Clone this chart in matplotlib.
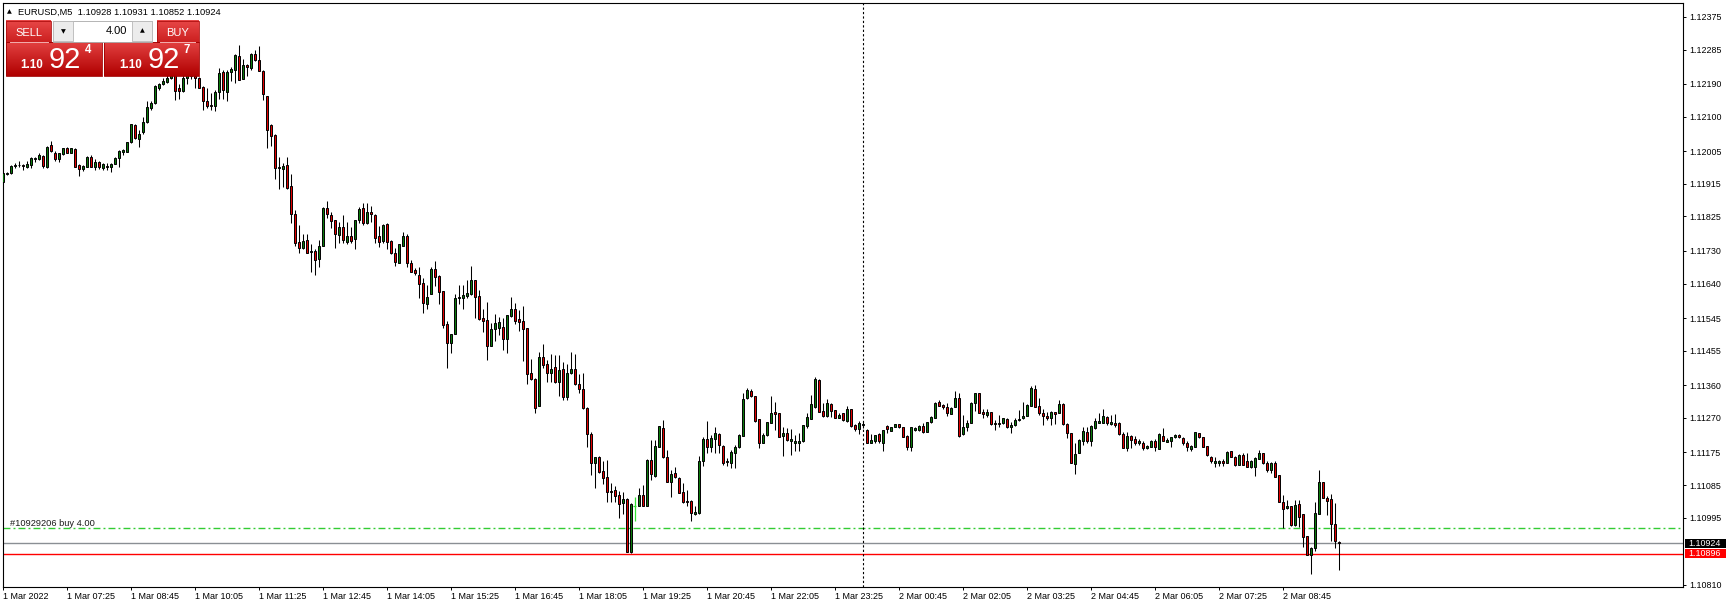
import numpy as np
import matplotlib.pyplot as plt
import matplotlib.colors as mcolors
from matplotlib.patches import Rectangle

plt.rcParams['font.family'] = ['Liberation Sans', 'DejaVu Sans']

# EURUSD M5 bars, values are points (1e-5) above 1.10000
opens = [
    1921, 1942, 1944, 1964, 1966, 1966, 1960, 1966, 1982, 1982,
    1991, 1961, 2021, 2001, 1984, 1998, 2013, 2001, 2011, 1967,
    1955, 1962, 1989, 1962, 1974, 1958, 1965, 1960, 1970, 1985,
    2003, 2003, 2029, 2076, 2039, 2059, 2084, 2125, 2137, 2178,
    2190, 2196, 2207, 2222, 2178, 2171, 2207, 2222, 2212, 2206,
    2182, 2142, 2133, 2130, 2169, 2223, 2169, 2222, 2229, 2266,
    2204, 2241, 2234, 2272, 2257, 2227, 2158, 2076, 2049, 1958,
    1955, 1967, 1909, 1833, 1754, 1737, 1759, 1726, 1731, 1707,
    1744, 1847, 1828, 1814, 1773, 1795, 1756, 1771, 1762, 1815,
    1847, 1806, 1836, 1829, 1770, 1758, 1804, 1757, 1723, 1698,
    1744, 1770, 1698, 1677, 1665, 1641, 1585, 1610, 1680, 1661,
    1619, 1529, 1475, 1500, 1599, 1601, 1607, 1611, 1650, 1606,
    1545, 1540, 1469, 1514, 1519, 1520, 1487, 1551, 1570, 1542,
    1537, 1517, 1394, 1377, 1304, 1437, 1418, 1393, 1409, 1370,
    1404, 1328, 1395, 1404, 1362, 1349, 1296, 1226, 1147, 1161,
    1124, 1106, 1069, 1071, 1058, 1035, 1047, 900, 1028, 1028,
    1058, 1028, 1154, 1110, 1189, 1241, 1161, 1092, 1118, 1104,
    1065, 1040, 1040, 1005, 1008, 1150, 1213, 1191, 1211, 1225,
    1193, 1148, 1147, 1172, 1189, 1220, 1324, 1344, 1329, 1266,
    1202, 1222, 1257, 1287, 1283, 1220, 1229, 1205, 1202, 1202,
    1205, 1248, 1268, 1299, 1374, 1290, 1275, 1309, 1292, 1271,
    1284, 1261, 1294, 1250, 1239, 1250, 1237, 1200, 1205, 1225,
    1200, 1248, 1235, 1246, 1252, 1244, 1220, 1191, 1237, 1237,
    1248, 1232, 1258, 1271, 1313, 1306, 1301, 1281, 1301, 1324,
    1225, 1246, 1257, 1310, 1338, 1287, 1279, 1285, 1252, 1257,
    1255, 1266, 1244, 1250, 1264, 1269, 1276, 1304, 1349, 1303,
    1284, 1276, 1269, 1285, 1283, 1308, 1253, 1229, 1142, 1172,
    1205, 1232, 1205, 1243, 1255, 1255, 1273, 1253, 1257, 1257,
    1226, 1186, 1221, 1212, 1200, 1200, 1186, 1191, 1207, 1185,
    1221, 1204, 1205, 1216, 1223, 1214, 1202, 1185, 1191, 1228,
    1216, 1193, 1161, 1145, 1145, 1152, 1147, 1178, 1163, 1140,
    1168, 1150, 1136, 1136, 1156, 1173, 1145, 1127, 1147, 1113,
    1038, 1021, 1026, 974, 1032, 1004, 945, 891, 911, 1004,
    1093, 1050, 1047, 978, 928,
]
highs = [
    1946, 1948, 1966, 1971, 1977, 1970, 1979, 1990, 1990, 2001,
    1994, 2019, 2034, 2004, 2001, 2015, 2017, 2015, 2013, 1970,
    1967, 1992, 1994, 1982, 1979, 1973, 1971, 1971, 1988, 2008,
    2012, 2031, 2080, 2079, 2063, 2098, 2144, 2144, 2186, 2193,
    2207, 2214, 2232, 2228, 2191, 2214, 2235, 2230, 2225, 2208,
    2185, 2179, 2165, 2174, 2234, 2229, 2229, 2238, 2272, 2298,
    2259, 2245, 2275, 2284, 2296, 2229, 2158, 2079, 2051, 1988,
    1971, 1990, 1942, 1844, 1801, 1776, 1776, 1749, 1734, 1760,
    1852, 1867, 1836, 1815, 1809, 1829, 1809, 1795, 1815, 1852,
    1863, 1863, 1854, 1832, 1799, 1804, 1808, 1760, 1737, 1748,
    1783, 1777, 1705, 1682, 1685, 1656, 1636, 1685, 1702, 1663,
    1619, 1538, 1500, 1610, 1635, 1635, 1650, 1688, 1650, 1622,
    1569, 1589, 1532, 1555, 1549, 1544, 1554, 1604, 1586, 1567,
    1578, 1517, 1432, 1379, 1451, 1474, 1430, 1445, 1443, 1443,
    1424, 1418, 1451, 1445, 1391, 1393, 1301, 1232, 1163, 1166,
    1150, 1154, 1090, 1081, 1069, 1067, 1049, 1035, 1051, 1076,
    1085, 1156, 1209, 1209, 1249, 1264, 1182, 1127, 1136, 1108,
    1090, 1070, 1044, 1026, 1166, 1218, 1262, 1223, 1246, 1229,
    1194, 1159, 1182, 1195, 1225, 1338, 1351, 1349, 1330, 1266,
    1228, 1260, 1330, 1313, 1283, 1246, 1241, 1239, 1223, 1229,
    1250, 1283, 1333, 1384, 1377, 1310, 1322, 1310, 1292, 1283,
    1284, 1303, 1294, 1252, 1262, 1260, 1239, 1226, 1222, 1228,
    1237, 1251, 1246, 1254, 1254, 1246, 1223, 1246, 1246, 1251,
    1255, 1260, 1275, 1315, 1318, 1307, 1310, 1299, 1345, 1338,
    1278, 1264, 1315, 1338, 1338, 1294, 1294, 1287, 1264, 1278,
    1271, 1269, 1260, 1269, 1292, 1314, 1307, 1358, 1361, 1324,
    1294, 1287, 1290, 1285, 1319, 1310, 1255, 1229, 1200, 1211,
    1244, 1246, 1251, 1269, 1284, 1294, 1276, 1278, 1281, 1259,
    1232, 1232, 1223, 1221, 1211, 1206, 1195, 1209, 1211, 1228,
    1241, 1214, 1218, 1225, 1226, 1216, 1205, 1196, 1232, 1229,
    1218, 1193, 1165, 1162, 1154, 1156, 1179, 1180, 1165, 1170,
    1172, 1172, 1154, 1161, 1182, 1174, 1150, 1148, 1152, 1113,
    1058, 1044, 1027, 1044, 1044, 1004, 945, 913, 1037, 1127,
    1094, 1055, 1061, 1035, 931,
]
lows = [
    1919, 1940, 1942, 1959, 1962, 1953, 1958, 1958, 1975, 1981,
    1958, 1958, 2003, 1979, 1975, 1995, 1999, 1999, 1962, 1937,
    1951, 1962, 1962, 1953, 1955, 1953, 1953, 1947, 1969, 1962,
    1993, 2002, 2027, 2038, 2017, 2051, 2083, 2118, 2136, 2174,
    2188, 2192, 2204, 2146, 2150, 2168, 2190, 2205, 2180, 2179,
    2119, 2123, 2119, 2116, 2149, 2149, 2142, 2197, 2192, 2202,
    2203, 2211, 2229, 2254, 2225, 2146, 2013, 2018, 1927, 1902,
    1907, 1901, 1808, 1744, 1723, 1735, 1723, 1673, 1665, 1687,
    1743, 1820, 1792, 1739, 1751, 1751, 1748, 1751, 1734, 1806,
    1801, 1804, 1810, 1753, 1740, 1751, 1735, 1721, 1689, 1698,
    1744, 1687, 1673, 1665, 1601, 1560, 1569, 1610, 1634, 1583,
    1517, 1407, 1450, 1500, 1583, 1569, 1599, 1609, 1546, 1540,
    1508, 1430, 1469, 1483, 1498, 1457, 1450, 1549, 1528, 1510,
    1428, 1363, 1374, 1283, 1304, 1407, 1370, 1370, 1367, 1330,
    1319, 1319, 1391, 1361, 1338, 1294, 1191, 1113, 1078, 1119,
    1087, 1039, 1039, 1039, 993, 1005, 900, 897, 987, 1026,
    1026, 1026, 1099, 1108, 1189, 1160, 1092, 1053, 1104, 1062,
    1035, 1026, 987, 1003, 1005, 1138, 1174, 1175, 1172, 1172,
    1140, 1138, 1133, 1133, 1186, 1220, 1321, 1327, 1260, 1188,
    1200, 1220, 1255, 1237, 1217, 1165, 1205, 1168, 1180, 1179,
    1203, 1241, 1266, 1296, 1287, 1273, 1273, 1273, 1269, 1269,
    1262, 1260, 1246, 1235, 1226, 1242, 1200, 1200, 1200, 1202,
    1180, 1229, 1234, 1244, 1242, 1218, 1182, 1180, 1235, 1235,
    1229, 1232, 1257, 1271, 1302, 1294, 1276, 1281, 1299, 1218,
    1223, 1235, 1257, 1290, 1283, 1269, 1273, 1250, 1237, 1246,
    1253, 1241, 1229, 1248, 1262, 1266, 1275, 1304, 1301, 1278,
    1250, 1264, 1250, 1252, 1283, 1250, 1214, 1145, 1115, 1172,
    1195, 1202, 1193, 1239, 1255, 1255, 1250, 1250, 1246, 1223,
    1186, 1180, 1186, 1195, 1195, 1182, 1184, 1189, 1180, 1184,
    1206, 1204, 1189, 1214, 1214, 1195, 1180, 1180, 1191, 1214,
    1189, 1166, 1145, 1136, 1138, 1138, 1145, 1161, 1138, 1139,
    1139, 1134, 1133, 1110, 1156, 1142, 1122, 1117, 1106, 1038,
    966, 1018, 971, 972, 969, 914, 891, 839, 902, 1004,
    1049, 1003, 932, 911, 852,
]
closes = [
    1944, 1946, 1964, 1966, 1966, 1965, 1969, 1986, 1986, 1994,
    1964, 2017, 2004, 1984, 1999, 2013, 2001, 2013, 1962, 1955,
    1965, 1989, 1962, 1974, 1962, 1969, 1960, 1969, 1986, 2006,
    2009, 2029, 2079, 2042, 2051, 2085, 2126, 2137, 2184, 2190,
    2198, 2207, 2222, 2170, 2171, 2207, 2222, 2212, 2206, 2180,
    2142, 2130, 2130, 2169, 2220, 2174, 2223, 2231, 2269, 2202,
    2243, 2236, 2272, 2257, 2226, 2163, 2064, 2048, 1958, 1962,
    1964, 1904, 1831, 1751, 1737, 1757, 1725, 1729, 1704, 1743,
    1847, 1831, 1813, 1776, 1796, 1760, 1771, 1758, 1814, 1845,
    1806, 1836, 1831, 1767, 1755, 1801, 1755, 1723, 1700, 1748,
    1770, 1698, 1673, 1668, 1638, 1586, 1603, 1680, 1659, 1618,
    1526, 1475, 1500, 1600, 1604, 1609, 1614, 1650, 1602, 1542,
    1538, 1467, 1515, 1531, 1534, 1487, 1553, 1570, 1538, 1535,
    1516, 1390, 1377, 1298, 1437, 1415, 1393, 1405, 1370, 1402,
    1328, 1394, 1404, 1363, 1349, 1296, 1225, 1145, 1161, 1120,
    1104, 1065, 1065, 1056, 1032, 1046, 900, 1032, 1028, 1058,
    1028, 1154, 1115, 1193, 1248, 1161, 1092, 1116, 1106, 1064,
    1038, 1037, 1009, 1011, 1150, 1213, 1191, 1214, 1228, 1194,
    1147, 1152, 1175, 1189, 1222, 1322, 1347, 1329, 1262, 1202,
    1223, 1260, 1284, 1280, 1218, 1229, 1209, 1213, 1206, 1207,
    1250, 1273, 1308, 1377, 1287, 1275, 1312, 1290, 1271, 1278,
    1264, 1294, 1249, 1239, 1257, 1254, 1200, 1209, 1222, 1205,
    1237, 1239, 1244, 1252, 1244, 1218, 1191, 1244, 1241, 1248,
    1232, 1258, 1272, 1310, 1304, 1299, 1283, 1296, 1324, 1220,
    1244, 1257, 1312, 1338, 1283, 1280, 1287, 1252, 1257, 1252,
    1269, 1244, 1250, 1264, 1268, 1276, 1305, 1352, 1301, 1283,
    1276, 1269, 1287, 1281, 1308, 1253, 1229, 1145, 1170, 1209,
    1234, 1205, 1248, 1262, 1262, 1275, 1255, 1260, 1251, 1225,
    1188, 1220, 1209, 1200, 1206, 1186, 1193, 1206, 1189, 1226,
    1207, 1209, 1217, 1222, 1216, 1200, 1189, 1193, 1230, 1216,
    1191, 1168, 1151, 1152, 1150, 1145, 1177, 1163, 1140, 1168,
    1140, 1136, 1151, 1159, 1173, 1145, 1127, 1147, 1108, 1039,
    1020, 1027, 975, 1030, 998, 943, 891, 911, 1009, 1093,
    1050, 1041, 978, 932, 924,
]

time_labels = ["1 Mar 2022", "1 Mar 07:25", "1 Mar 08:45", "1 Mar 10:05", "1 Mar 11:25",
               "1 Mar 12:45", "1 Mar 14:05", "1 Mar 15:25", "1 Mar 16:45", "1 Mar 18:05",
               "1 Mar 19:25", "1 Mar 20:45", "1 Mar 22:05", "1 Mar 23:25", "2 Mar 00:45",
               "2 Mar 02:05", "2 Mar 03:25", "2 Mar 04:45", "2 Mar 06:05", "2 Mar 07:25",
               "2 Mar 08:45"]
price_ticks = [1.12375, 1.12285, 1.12190, 1.12100, 1.12005, 1.11915, 1.11825, 1.11730,
               1.11640, 1.11545, 1.11455, 1.11360, 1.11270, 1.11175, 1.11085, 1.10995,
               1.10810]
order_price = 1.10966
bid_price = 1.10924
ask_price = 1.10927
red_price = 1.10896
day_start_bar = 215
trade_bar = 158

W, H = 1729, 609
o = 1.1 + np.array(opens) / 1e5
h = 1.1 + np.array(highs) / 1e5
l = 1.1 + np.array(lows) / 1e5
c = 1.1 + np.array(closes) / 1e5
idx = np.arange(len(o))

fig = plt.figure(figsize=(W / 100, H / 100), dpi=100, facecolor='white')
ax = fig.add_axes([2.5 / W, 1 - 587 / H, (1683.3 - 2.5) / W, (587 - 2.7) / H])

normal = idx != trade_bar
up = (c >= o) & normal
dn = (c < o) & normal
ax.vlines(idx[normal], l[normal], h[normal], color='black', lw=0.75, zorder=2)
ax.bar(idx[up], c[up] - o[up], bottom=o[up], width=0.55, color='#0b7a0b',
       edgecolor='black', linewidth=0.7, zorder=3)
ax.bar(idx[dn], o[dn] - c[dn], bottom=c[dn], width=0.55, color='#e00000',
       edgecolor='black', linewidth=0.7, zorder=3)
ax.vlines(trade_bar, l[trade_bar], h[trade_bar], color='#33e033', lw=0.9, zorder=3)
ax.hlines(o[trade_bar], trade_bar - 0.35, trade_bar + 0.35, color='#33e033', lw=0.9, zorder=3)

# order / price lines
ax.axhline(order_price, color='#33cc33', lw=1, linestyle=(0, (5, 2.2, 1.4, 2.2)), zorder=1)
ax.axhline(bid_price, color='#8a8f94', lw=1, zorder=1)
ax.axhline(red_price, color='#ff0000', lw=1, zorder=1)
ax.axvline(day_start_bar, color='black', lw=0.8, linestyle=(0, (2, 2)), zorder=1)

ax.set_xlim(-0.075, 420.1)
ax.set_ylim(1.10804, 1.12414)
for s in ax.spines.values():
    s.set_color('black')
    s.set_linewidth(0.8)

ax.yaxis.tick_right()
ax.set_yticks(price_ticks)
ax.set_yticklabels([f"{p:.5f}" for p in price_ticks])
ax.tick_params(axis='y', length=2.2, width=0.7, pad=2.2, labelsize=6.4, colors='black')
ax.set_xticks(np.arange(len(time_labels)) * 16)
ax.set_xticklabels(time_labels, ha='left')
ax.tick_params(axis='x', length=2.2, width=0.7, pad=1.5, labelsize=6.5, colors='black')

# overlay in pixel coordinates for the trading panel and labels
ov = fig.add_axes([0, 0, 1, 1], zorder=5)
ov.set_facecolor('none')
ov.axis('off')


def grad_box(x0, y0, x1, y1, top, bot, edge):
    t = np.linspace(0, 1, 40)[:, None]
    img = (np.array(mcolors.to_rgb(top)) * (1 - t) + np.array(mcolors.to_rgb(bot)) * t)[:, None, :]
    ov.imshow(img, extent=(x0, x1, y1, y0), aspect='auto', interpolation='bilinear', zorder=2)
    ov.add_patch(Rectangle((x0, y0), x1 - x0, y1 - y0, fill=False, ec=edge, lw=0.6, zorder=3))


grad_box(6, 20.5, 51, 41.7, '#e84848', '#cc2020', '#b01010')
grad_box(157, 20.5, 199, 41.7, '#e84848', '#cc2020', '#b01010')
grad_box(6, 42, 101.7, 76, '#e24040', '#b00000', '#a00000')
grad_box(104.3, 42, 199, 76, '#e24040', '#b00000', '#a00000')
ov.plot([10, 47.7], [41.5, 41.5], color='#f4b0b0', lw=0.7, zorder=4)
ov.plot([160, 195], [41.5, 41.5], color='#f4b0b0', lw=0.7, zorder=4)

ov.add_patch(Rectangle((53, 20.7), 99.5, 21, fc='white', ec='#a8a8a8', lw=0.6, zorder=3))
ov.add_patch(Rectangle((53.3, 21), 19.4, 20.4, fc='#ececec', ec='#b8b8b8', lw=0.6, zorder=4))
ov.add_patch(Rectangle((131.7, 21), 20.6, 20.4, fc='#ececec', ec='#b8b8b8', lw=0.6, zorder=4))
ov.text(63, 31.5, '▼', fontsize=4.5, ha='center', va='center', color='black',
        family='DejaVu Sans', zorder=5)
ov.text(142, 31, '▲', fontsize=4.5, ha='center', va='center', color='black',
        family='DejaVu Sans', zorder=5)
ov.text(127.5, 34.5, '4.00', fontsize=8, ha='right', va='baseline', color='black', zorder=5)
ov.text(28.5, 36, 'SELL', fontsize=8, ha='center', va='baseline', color='white', zorder=5)
ov.text(178, 36, 'BUY', fontsize=8, ha='center', va='baseline', color='white', zorder=5)

for p, cx in [(bid_price, 6), (ask_price, 104.3)]:
    s = f"{p:.5f}"
    ov.text(cx + 26, 68.3, s[:4], fontsize=8.4, fontweight='bold', ha='center',
            va='baseline', color='white', zorder=5)
    ov.text(cx + 59.2, 68.3, s[4:6], fontsize=21, ha='center', va='baseline',
            color='white', zorder=5)
    ov.text(cx + 82.3, 53.3, s[6], fontsize=8.3, fontweight='bold', ha='center',
            va='baseline', color='white', zorder=5)

# header
ov.text(9.5, 11.5, '▲', fontsize=4.5, ha='center', va='center', color='black',
        family='DejaVu Sans')
ov.text(18, 15, f"EURUSD,M5  {o[-1]:.5f} {h[-1]:.5f} {l[-1]:.5f} {c[-1]:.5f}",
        fontsize=6.7, ha='left', va='baseline', color='black')

# order label
ov.text(10, 525.5, '#10929206 buy 4.00', fontsize=6.7, ha='left', va='baseline', color='#1a1a1a')

# price tags on the right scale
for p, fc in [(bid_price, 'black'), (red_price, '#ff0000')]:
    yp = H - ax.transData.transform((0, p))[1]
    ov.add_patch(Rectangle((1685, yp - 4.4), 41, 8.8, fc=fc, ec='none', zorder=4))
    ov.text(1688, yp, f"{p:.5f}", fontsize=6.4, ha='left', va='center', color='white', zorder=5)

ov.set_xlim(0, W)
ov.set_ylim(H, 0)

fig.savefig('out.png', dpi=100, facecolor='white')
